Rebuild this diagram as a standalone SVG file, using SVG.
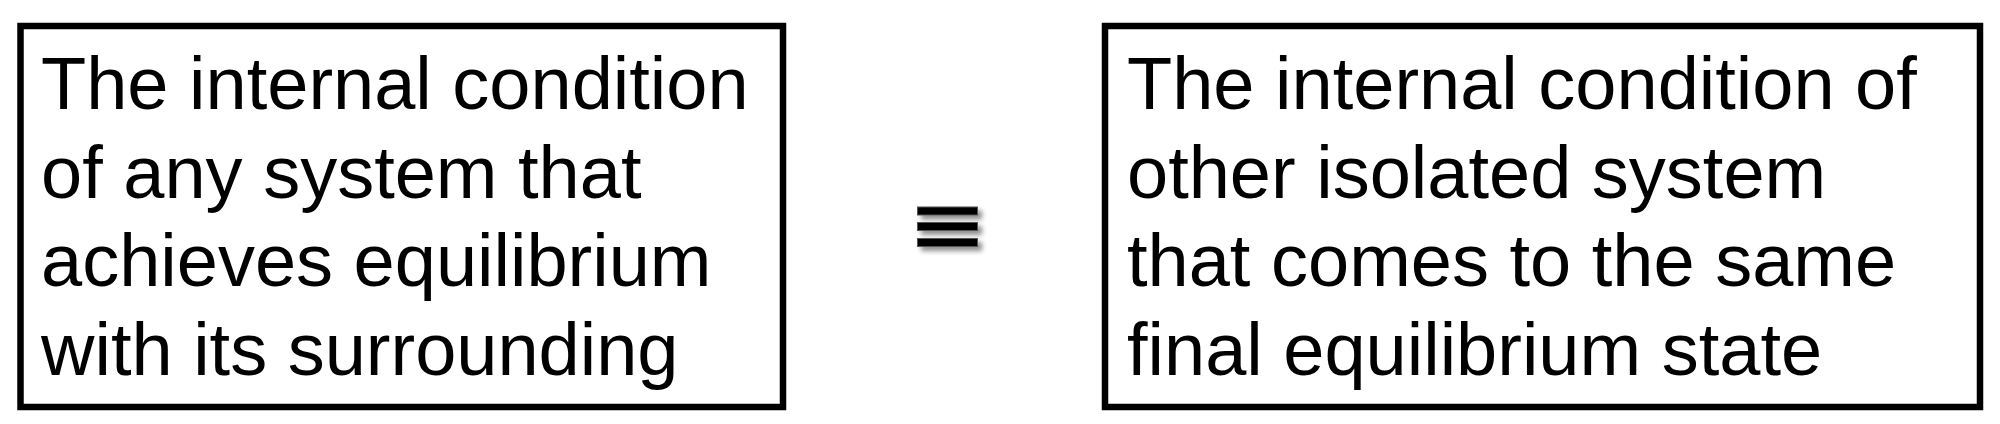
<svg xmlns="http://www.w3.org/2000/svg" width="2000" height="424" viewBox="0 0 2000 424">
<style>
.box{fill:#fff;stroke:#000;stroke-width:6.5}
.t{font-family:"Liberation Sans",Arial,sans-serif;font-size:74px;fill:#000}
.bar{fill:#000;stroke:#555;stroke-width:1}
</style>
<defs>
<filter id="sh" x="-20%" y="-50%" width="150%" height="250%">
<feGaussianBlur in="SourceAlpha" stdDeviation="2.5"/>
<feOffset dx="4" dy="4" result="b"/>
<feComponentTransfer><feFuncA type="linear" slope="0.45"/></feComponentTransfer>
<feMerge><feMergeNode/><feMergeNode in="SourceGraphic"/></feMerge>
</filter>
</defs>
<rect width="2000" height="424" fill="#fff"/>
<g id="left">
<rect class="box" x="20.5" y="26" width="762.5" height="381"/>
<text class="t" x="41"><tspan x="41" y="109">The internal condition</tspan><tspan x="41" y="198">of any system that</tspan><tspan x="41" y="286">achieves equilibrium</tspan><tspan x="41" y="375">with its surrounding</tspan></text>
</g>
<g id="equiv" filter="url(#sh)">
<rect class="bar" x="917.5" y="207" width="60" height="8"/>
<rect class="bar" x="917.5" y="222.5" width="60" height="8"/>
<rect class="bar" x="917.5" y="238.5" width="60" height="8"/>
</g>
<g id="right">
<rect class="box" x="1105" y="26" width="875" height="381"/>
<text class="t"><tspan x="1127" y="109">The internal condition of</tspan><tspan x="1127" y="198">other isolated system</tspan><tspan x="1127" y="286">that comes to the same</tspan><tspan x="1127" y="375">final equilibrium state</tspan></text>
</g>
<g id="connectors"/>
</svg>
